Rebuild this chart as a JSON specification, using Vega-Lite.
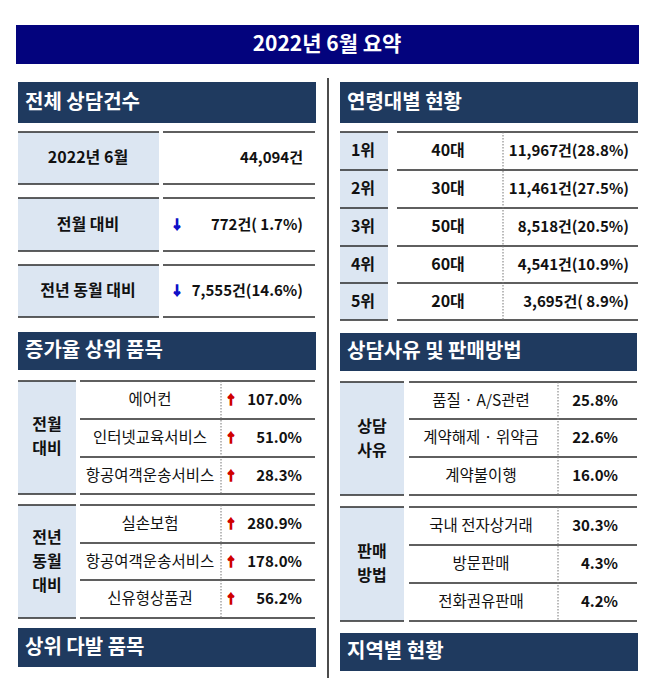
{
  "$schema": "https://vega.github.io/schema/vega-lite/v6.json",
  "width": 658,
  "height": 678,
  "autosize": "none",
  "padding": 0,
  "background": "white",
  "config": {"view": {"stroke": null}},
  "datasets": {
    "boxes": [
      {"x": 16, "x2": 639, "y": 25, "y2": 64, "kind": "title"},
      {"x": 18, "x2": 316, "y": 82, "y2": 123, "kind": "header"},
      {"x": 340, "x2": 638, "y": 82, "y2": 123, "kind": "header"},
      {"x": 18, "x2": 316, "y": 332, "y2": 370, "kind": "header"},
      {"x": 340, "x2": 637, "y": 333, "y2": 371, "kind": "header"},
      {"x": 18, "x2": 316, "y": 628, "y2": 667, "kind": "header"},
      {"x": 340, "x2": 638, "y": 633, "y2": 671, "kind": "header"},
      {"x": 18, "x2": 159, "y": 132, "y2": 184, "kind": "label"},
      {"x": 18, "x2": 159, "y": 198, "y2": 251, "kind": "label"},
      {"x": 18, "x2": 159, "y": 265, "y2": 317, "kind": "label"},
      {"x": 340, "x2": 388, "y": 132, "y2": 320, "kind": "label"},
      {"x": 18, "x2": 76, "y": 381, "y2": 494, "kind": "label"},
      {"x": 18, "x2": 76, "y": 505, "y2": 618, "kind": "label"},
      {"x": 340, "x2": 404, "y": 382, "y2": 495, "kind": "label"},
      {"x": 340, "x2": 404, "y": 507, "y2": 621, "kind": "label"}
    ],
    "rules": [
      {"x": 18, "x2": 159, "y": 132, "y2": 132, "kind": "solid"},
      {"x": 163, "x2": 315, "y": 132, "y2": 132, "kind": "solid"},
      {"x": 18, "x2": 159, "y": 184, "y2": 184, "kind": "solid"},
      {"x": 163, "x2": 315, "y": 184, "y2": 184, "kind": "solid"},
      {"x": 18, "x2": 159, "y": 198, "y2": 198, "kind": "solid"},
      {"x": 163, "x2": 315, "y": 198, "y2": 198, "kind": "solid"},
      {"x": 18, "x2": 159, "y": 251, "y2": 251, "kind": "solid"},
      {"x": 163, "x2": 315, "y": 251, "y2": 251, "kind": "solid"},
      {"x": 18, "x2": 159, "y": 265, "y2": 265, "kind": "solid"},
      {"x": 163, "x2": 315, "y": 265, "y2": 265, "kind": "solid"},
      {"x": 18, "x2": 159, "y": 317, "y2": 317, "kind": "solid"},
      {"x": 163, "x2": 315, "y": 317, "y2": 317, "kind": "solid"},

      {"x": 340, "x2": 388, "y": 132, "y2": 132, "kind": "solid"},
      {"x": 397, "x2": 638, "y": 132, "y2": 132, "kind": "solid"},
      {"x": 340, "x2": 388, "y": 170, "y2": 170, "kind": "solid"},
      {"x": 397, "x2": 638, "y": 170, "y2": 170, "kind": "solid"},
      {"x": 340, "x2": 388, "y": 208, "y2": 208, "kind": "solid"},
      {"x": 397, "x2": 638, "y": 208, "y2": 208, "kind": "solid"},
      {"x": 340, "x2": 388, "y": 246, "y2": 246, "kind": "solid"},
      {"x": 397, "x2": 638, "y": 246, "y2": 246, "kind": "solid"},
      {"x": 340, "x2": 388, "y": 283, "y2": 283, "kind": "solid"},
      {"x": 397, "x2": 638, "y": 283, "y2": 283, "kind": "solid"},
      {"x": 340, "x2": 388, "y": 320, "y2": 320, "kind": "solid"},
      {"x": 397, "x2": 638, "y": 320, "y2": 320, "kind": "solid"},

      {"x": 18, "x2": 76, "y": 381, "y2": 381, "kind": "solid"},
      {"x": 18, "x2": 76, "y": 494, "y2": 494, "kind": "solid"},
      {"x": 18, "x2": 76, "y": 505, "y2": 505, "kind": "solid"},
      {"x": 18, "x2": 76, "y": 618, "y2": 618, "kind": "solid"},
      {"x": 80, "x2": 315, "y": 381, "y2": 381, "kind": "solid"},
      {"x": 80, "x2": 315, "y": 419, "y2": 419, "kind": "solid"},
      {"x": 80, "x2": 315, "y": 457, "y2": 457, "kind": "solid"},
      {"x": 80, "x2": 315, "y": 494, "y2": 494, "kind": "solid"},
      {"x": 80, "x2": 315, "y": 505, "y2": 505, "kind": "solid"},
      {"x": 80, "x2": 315, "y": 543, "y2": 543, "kind": "solid"},
      {"x": 80, "x2": 315, "y": 580, "y2": 580, "kind": "solid"},
      {"x": 80, "x2": 315, "y": 618, "y2": 618, "kind": "solid"},

      {"x": 340, "x2": 404, "y": 382, "y2": 382, "kind": "solid"},
      {"x": 340, "x2": 404, "y": 495, "y2": 495, "kind": "solid"},
      {"x": 340, "x2": 404, "y": 507, "y2": 507, "kind": "solid"},
      {"x": 340, "x2": 404, "y": 621, "y2": 621, "kind": "solid"},
      {"x": 409, "x2": 637, "y": 382, "y2": 382, "kind": "solid"},
      {"x": 409, "x2": 637, "y": 419, "y2": 419, "kind": "solid"},
      {"x": 409, "x2": 637, "y": 457, "y2": 457, "kind": "solid"},
      {"x": 409, "x2": 637, "y": 495, "y2": 495, "kind": "solid"},
      {"x": 409, "x2": 637, "y": 507, "y2": 507, "kind": "solid"},
      {"x": 409, "x2": 637, "y": 545, "y2": 545, "kind": "solid"},
      {"x": 409, "x2": 637, "y": 583, "y2": 583, "kind": "solid"},
      {"x": 409, "x2": 637, "y": 621, "y2": 621, "kind": "solid"},

      {"x": 328, "x2": 328, "y": 78, "y2": 678, "kind": "divider"},

      {"x": 503, "x2": 503, "y": 132, "y2": 320, "kind": "dotted"},
      {"x": 221, "x2": 221, "y": 381, "y2": 494, "kind": "dotted"},
      {"x": 221, "x2": 221, "y": 505, "y2": 618, "kind": "dotted"},
      {"x": 558, "x2": 558, "y": 382, "y2": 495, "kind": "dotted"},
      {"x": 558, "x2": 558, "y": 507, "y2": 621, "kind": "dotted"}
    ],
    "texts": [
      {"x": 327, "y": 44.5, "t": "2022년 6월 요약", "kind": "title"},
      {"x": 25, "y": 102.5, "t": "전체 상담건수", "kind": "header"},
      {"x": 347, "y": 102.5, "t": "연령대별 현황", "kind": "header"},
      {"x": 25, "y": 351, "t": "증가율 상위 품목", "kind": "header"},
      {"x": 347, "y": 352, "t": "상담사유 및 판매방법", "kind": "header"},
      {"x": 25, "y": 647.5, "t": "상위 다발 품목", "kind": "header"},
      {"x": 347, "y": 652, "t": "지역별 현황", "kind": "header"},

      {"x": 88, "y": 158, "t": "2022년 6월", "kind": "label"},
      {"x": 88, "y": 224.5, "t": "전월 대비", "kind": "label"},
      {"x": 88, "y": 291, "t": "전년 동월 대비", "kind": "label"},
      {"x": 363, "y": 151, "t": "1위", "kind": "label"},
      {"x": 363, "y": 189, "t": "2위", "kind": "label"},
      {"x": 363, "y": 227, "t": "3위", "kind": "label"},
      {"x": 363, "y": 264.5, "t": "4위", "kind": "label"},
      {"x": 363, "y": 301.5, "t": "5위", "kind": "label"},
      {"x": 448, "y": 151, "t": "40대", "kind": "label"},
      {"x": 448, "y": 189, "t": "30대", "kind": "label"},
      {"x": 448, "y": 227, "t": "50대", "kind": "label"},
      {"x": 448, "y": 264.5, "t": "60대", "kind": "label"},
      {"x": 448, "y": 301.5, "t": "20대", "kind": "label"},

      {"x": 47, "y": 425, "t": "전월", "kind": "group"},
      {"x": 47, "y": 449, "t": "대비", "kind": "group"},
      {"x": 47, "y": 537.5, "t": "전년", "kind": "group"},
      {"x": 47, "y": 561.5, "t": "동월", "kind": "group"},
      {"x": 47, "y": 585.5, "t": "대비", "kind": "group"},
      {"x": 372, "y": 426.5, "t": "상담", "kind": "group"},
      {"x": 372, "y": 450.5, "t": "사유", "kind": "group"},
      {"x": 372, "y": 552, "t": "판매", "kind": "group"},
      {"x": 372, "y": 576, "t": "방법", "kind": "group"},

      {"x": 150, "y": 400, "t": "에어컨", "kind": "item"},
      {"x": 150, "y": 438, "t": "인터넷교육서비스", "kind": "item"},
      {"x": 150, "y": 475.5, "t": "항공여객운송서비스", "kind": "item"},
      {"x": 150, "y": 524, "t": "실손보험", "kind": "item"},
      {"x": 150, "y": 561.5, "t": "항공여객운송서비스", "kind": "item"},
      {"x": 150, "y": 599, "t": "신유형상품권", "kind": "item"},
      {"x": 481, "y": 400.5, "t": "품질 · A/S관련", "kind": "item"},
      {"x": 481, "y": 438, "t": "계약해제 · 위약금", "kind": "item"},
      {"x": 481, "y": 476, "t": "계약불이행", "kind": "item"},
      {"x": 481, "y": 526, "t": "국내 전자상거래", "kind": "item"},
      {"x": 481, "y": 564, "t": "방문판매", "kind": "item"},
      {"x": 481, "y": 602, "t": "전화권유판매", "kind": "item"},

      {"x": 303, "y": 158, "t": "44,094건", "kind": "value"},
      {"x": 303, "y": 224.5, "t": "772건( 1.7%)", "kind": "value"},
      {"x": 303, "y": 291, "t": "7,555건(14.6%)", "kind": "value"},
      {"x": 629, "y": 151, "t": "11,967건(28.8%)", "kind": "value"},
      {"x": 629, "y": 189, "t": "11,461건(27.5%)", "kind": "value"},
      {"x": 629, "y": 227, "t": "8,518건(20.5%)", "kind": "value"},
      {"x": 629, "y": 264.5, "t": "4,541건(10.9%)", "kind": "value"},
      {"x": 629, "y": 301.5, "t": "3,695건( 8.9%)", "kind": "value"},
      {"x": 302, "y": 400, "t": "107.0%", "kind": "value"},
      {"x": 302, "y": 438, "t": "51.0%", "kind": "value"},
      {"x": 302, "y": 475.5, "t": "28.3%", "kind": "value"},
      {"x": 302, "y": 524, "t": "280.9%", "kind": "value"},
      {"x": 302, "y": 561.5, "t": "178.0%", "kind": "value"},
      {"x": 302, "y": 599, "t": "56.2%", "kind": "value"},
      {"x": 618, "y": 400.5, "t": "25.8%", "kind": "value"},
      {"x": 618, "y": 438, "t": "22.6%", "kind": "value"},
      {"x": 618, "y": 476, "t": "16.0%", "kind": "value"},
      {"x": 618, "y": 526, "t": "30.3%", "kind": "value"},
      {"x": 618, "y": 564, "t": "4.3%", "kind": "value"},
      {"x": 618, "y": 602, "t": "4.2%", "kind": "value"},

      {"x": 177, "y": 224.5, "t": "↓", "kind": "down"},
      {"x": 177, "y": 291, "t": "↓", "kind": "down"},
      {"x": 231, "y": 401, "t": "↑", "kind": "up"},
      {"x": 231, "y": 439, "t": "↑", "kind": "up"},
      {"x": 231, "y": 476.5, "t": "↑", "kind": "up"},
      {"x": 231, "y": 525, "t": "↑", "kind": "up"},
      {"x": 231, "y": 562.5, "t": "↑", "kind": "up"},
      {"x": 231, "y": 600, "t": "↑", "kind": "up"}
    ]
  },
  "encoding": {
    "x": {"field": "x", "type": "quantitative", "scale": {"domain": [0, 658], "nice": false, "zero": false}, "axis": null},
    "y": {"field": "y", "type": "quantitative", "scale": {"domain": [0, 678], "nice": false, "zero": false, "reverse": true}, "axis": null}
  },
  "layer": [
    {
      "data": {"name": "boxes"},
      "mark": {"type": "rect", "strokeWidth": 0},
      "encoding": {
        "x2": {"field": "x2"},
        "y2": {"field": "y2"},
        "color": {"field": "kind", "type": "nominal", "legend": null,
          "scale": {"domain": ["title", "header", "label"], "range": ["#03037D", "#1F3A5F", "#DCE6F2"]}}
      }
    },
    {
      "data": {"name": "rules"},
      "transform": [{"filter": "datum.kind === 'solid'"}],
      "mark": {"type": "rule", "color": "#2A2A2A", "strokeWidth": 1.6},
      "encoding": {"x2": {"field": "x2"}, "y2": {"field": "y2"}}
    },
    {
      "data": {"name": "rules"},
      "transform": [{"filter": "datum.kind === 'divider'"}],
      "mark": {"type": "rule", "color": "#111111", "strokeWidth": 1.5},
      "encoding": {"x2": {"field": "x2"}, "y2": {"field": "y2"}}
    },
    {
      "data": {"name": "rules"},
      "transform": [{"filter": "datum.kind === 'dotted'"}],
      "mark": {"type": "rule", "color": "#777777", "strokeWidth": 1, "strokeDash": [1.5, 1.5]},
      "encoding": {"x2": {"field": "x2"}, "y2": {"field": "y2"}}
    },
    {
      "data": {"name": "texts"},
      "transform": [{"filter": "datum.kind === 'title'"}],
      "mark": {"type": "text", "align": "center", "baseline": "middle", "font": "Noto Sans CJK KR", "fontWeight": "bold", "fontSize": 21, "color": "white"},
      "encoding": {"text": {"field": "t"}}
    },
    {
      "data": {"name": "texts"},
      "transform": [{"filter": "datum.kind === 'header'"}],
      "mark": {"type": "text", "align": "left", "baseline": "middle", "font": "Noto Sans CJK KR", "fontWeight": "bold", "fontSize": 20, "color": "white"},
      "encoding": {"text": {"field": "t"}}
    },
    {
      "data": {"name": "texts"},
      "transform": [{"filter": "datum.kind === 'label'"}],
      "mark": {"type": "text", "align": "center", "baseline": "middle", "font": "Noto Sans CJK KR", "fontWeight": "bold", "fontSize": 16, "color": "#111111"},
      "encoding": {"text": {"field": "t"}}
    },
    {
      "data": {"name": "texts"},
      "transform": [{"filter": "datum.kind === 'group'"}],
      "mark": {"type": "text", "align": "center", "baseline": "middle", "font": "Noto Sans CJK KR", "fontWeight": "bold", "fontSize": 16, "color": "#111111"},
      "encoding": {"text": {"field": "t"}}
    },
    {
      "data": {"name": "texts"},
      "transform": [{"filter": "datum.kind === 'item'"}],
      "mark": {"type": "text", "align": "center", "baseline": "middle", "font": "Noto Sans CJK KR", "fontWeight": "normal", "fontSize": 15.5, "color": "#111111"},
      "encoding": {"text": {"field": "t"}}
    },
    {
      "data": {"name": "texts"},
      "transform": [{"filter": "datum.kind === 'value'"}],
      "mark": {"type": "text", "align": "right", "baseline": "middle", "font": "Noto Sans CJK KR", "fontWeight": "bold", "fontSize": 15, "color": "#111111"},
      "encoding": {"text": {"field": "t"}}
    },
    {
      "data": {"name": "texts"},
      "transform": [{"filter": "datum.kind === 'down'"}],
      "mark": {"type": "text", "align": "center", "baseline": "middle", "font": "Noto Sans CJK KR", "fontWeight": "bold", "fontSize": 12, "color": "#1010C8", "stroke": "#1010C8", "strokeWidth": 1.3},
      "encoding": {"text": {"field": "t"}}
    },
    {
      "data": {"name": "texts"},
      "transform": [{"filter": "datum.kind === 'up'"}],
      "mark": {"type": "text", "align": "center", "baseline": "middle", "font": "Noto Sans CJK KR", "fontWeight": "bold", "fontSize": 12, "color": "#D00000", "stroke": "#D00000", "strokeWidth": 1.3},
      "encoding": {"text": {"field": "t"}}
    }
  ]
}
